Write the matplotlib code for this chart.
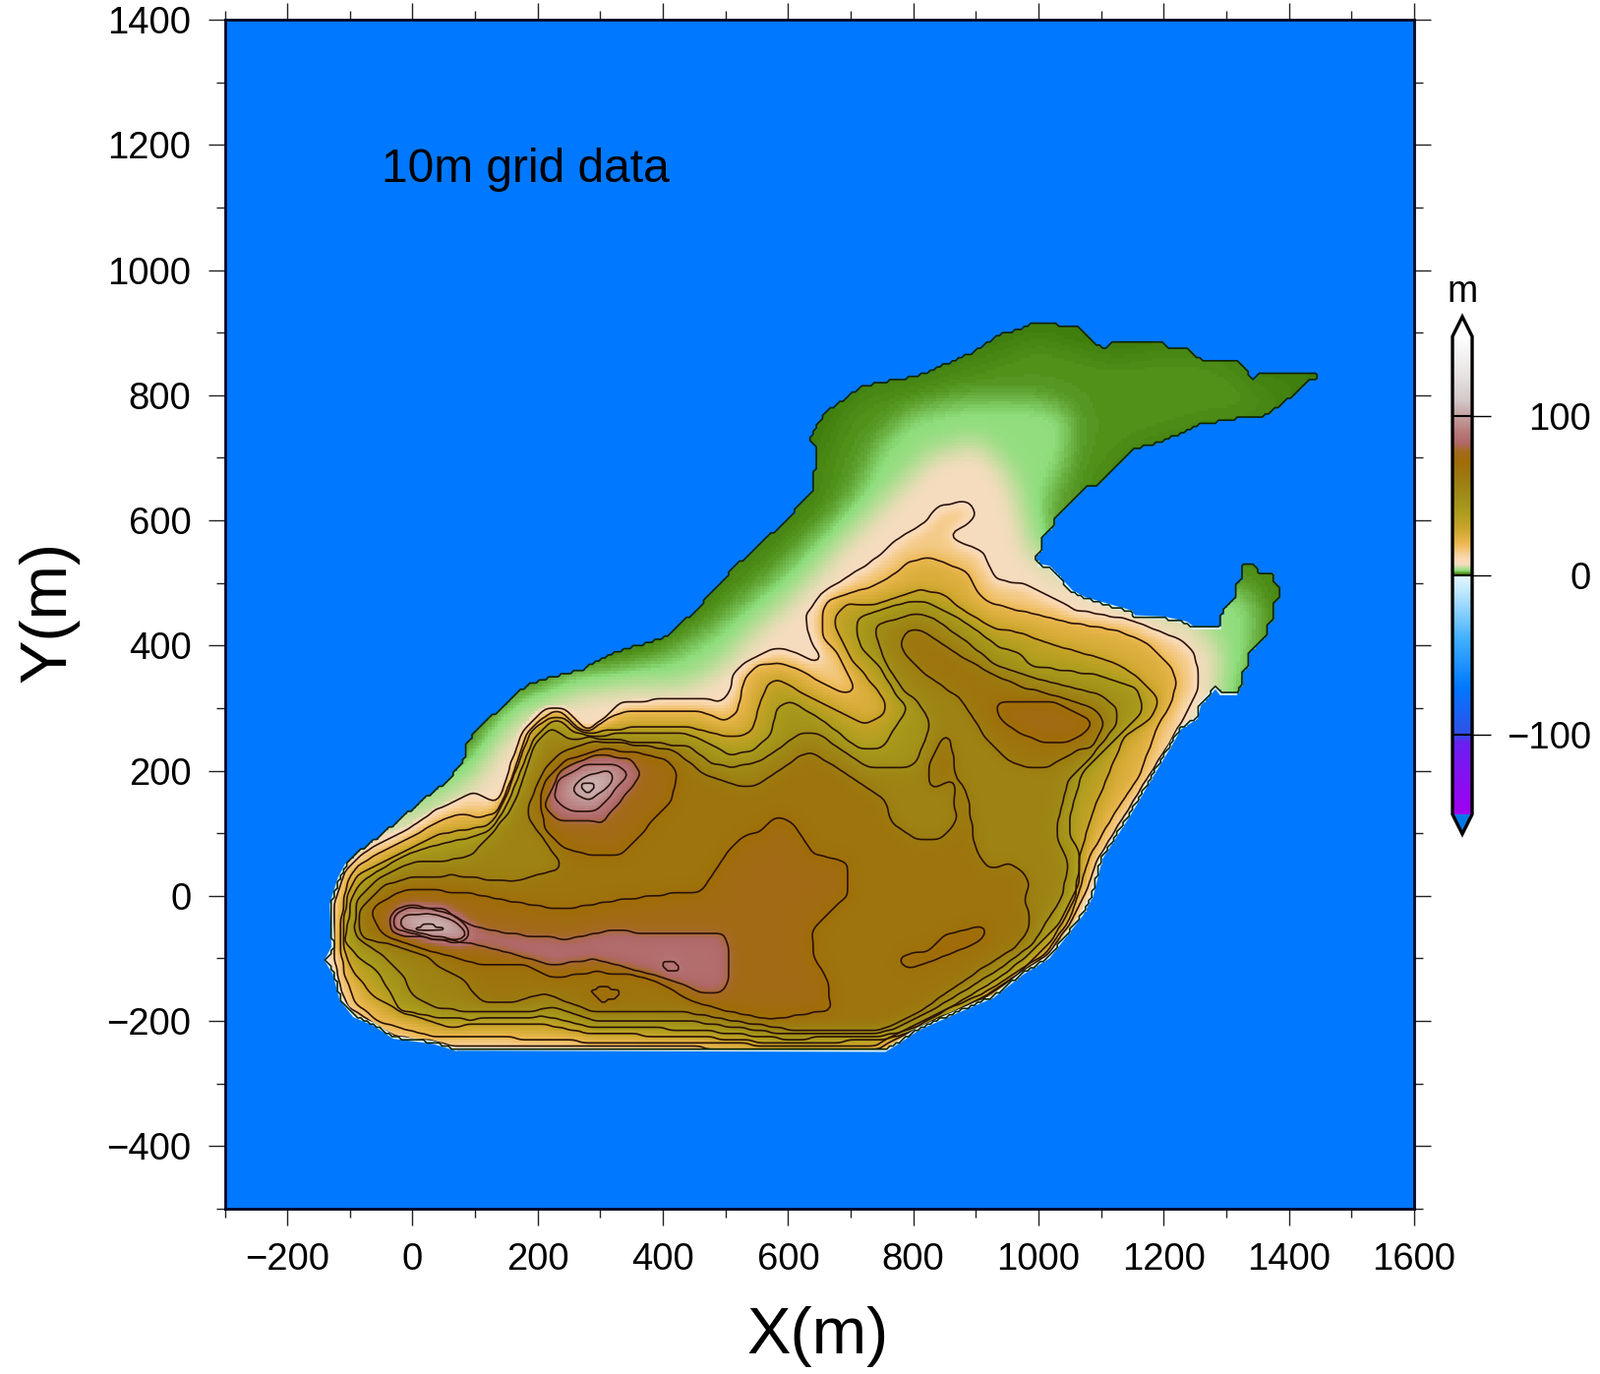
#10m grid topography map, contours
import numpy as np
import matplotlib
matplotlib.use('Agg')
import matplotlib.pyplot as plt
from matplotlib.path import Path
from matplotlib.colors import LinearSegmentedColormap, Normalize
from matplotlib.ticker import MultipleLocator

plt.rcParams['font.family'] = ['Liberation Sans', 'DejaVu Sans']

# all outlines are (x, y) in metres
coast = [(69,-245),(32,-234),(-30,-226),(-62,-205),(-93,-192),(-114,-166),(-125,-124),(-138,-103),(-127,-82),(-130,-14),
         (-117,28),(-106,49),(-88,70),(-51,96),(-9,132),(32,166),(61,185),(64,195),(82,216),(85,240),(106,271),(137,295),
         (158,316),(184,337),(221,350),(268,360),(319,388),(401,412),(450,453),(515,526),(597,600),(640,649),(645,714),
         (634,730),(658,771),(719,815),(808,831),(897,869),(938,897),(970,905),(993,915),(1027,915),(1032,908),(1066,908),
         (1082,889),(1103,874),(1121,887),(1197,887),(1205,876),(1236,874),(1262,855),(1317,855),(1343,826),(1351,835),
         (1445,837),(1445,825),(1430,823),(1388,784),(1357,765),(1309,762),(1257,753),(1194,724),(1153,715),(1095,656),
         (1074,653),(1027,606),(1024,593),(1004,572),(1004,554),(995,543),(1001,528),(1017,525),(1053,486),(1074,475),
         (1147,454),(1153,446),(1200,444),(1236,436),(1247,428),(1289,428),(1294,457),(1315,475),(1317,499),(1325,507),
         (1325,528),(1346,528),(1351,515),(1375,514),(1377,499),(1385,496),(1385,475),(1375,465),(1375,444),(1364,431),
         (1362,412),(1336,386),(1333,368),(1325,355),(1325,336),(1315,323),(1291,323),(1283,334),(1257,305),(1252,284),
         (1226,268),(1210,240),(1180,190),(1145,130),(1100,60),(1085,0),(1069,-30),(1016,-98),(974,-124),(927,-161),
         (870,-185),(807,-213),(776,-234),(755,-247)]

# unlined shading steps in the low ground
mid_zone = [(-90,60),(-20,120),(35,155),(65,185),(90,230),(115,262),(145,285),(190,325),(225,340),(300,360),(400,395),
            (455,440),(520,512),(600,582),(650,635),(662,712),(680,760),(725,800),(810,815),(900,850),(1000,890),(1080,865),
            (1110,855),(1200,865),(1315,840),(1340,805),(1420,825),(1350,775),(1260,765),(1190,738),(1150,728),(1095,672),
            (1070,645),(1030,605),(1015,575),(1010,545),(1040,500),(1100,470),(1290,440),(1300,470),(1335,530),(1370,500),
            (1365,440),(1340,380),(1310,320),(1260,300),(1300,200),(1100,-100),(800,-300),(-200,-300),(-200,0)]
green_zone = [(-110,55),(-30,105),(50,165),(95,205),(130,265),(175,305),(235,335),(305,355),(405,380),(480,425),(570,500),
              (650,575),(710,645),(745,725),(790,770),(880,790),(1000,790),(1050,770),(1045,700),(1015,640),(1000,570),
              (1000,545),(1010,530),(1050,488),(1150,450),(1240,432),(1295,460),(1325,490),(1345,470),(1340,420),(1318,370),
              (1310,335),(1285,330),(1260,300),(1300,200),(1100,-100),(800,-300),(-200,-300),(-200,0)]
cream_zone = [(-100,62),(-40,100),(40,150),(95,185),(135,245),(180,295),(270,325),(350,335),(430,335),(490,365),(535,416),
              (610,480),(700,580),(770,650),(825,705),(900,725),(950,680),(975,600),(985,540),(1010,520),(1060,480),
              (1150,447),(1240,430),(1289,395),(1285,330),(1255,300),(1225,265),(1205,238),(1300,200),(1100,-100),
              (800,-300),(-200,-300),(-200,0)]

c10 = [(-125,-93),(-127,-25),(-119,7),(-106,43),(-88,62),(-51,85),(-9,106),(38,138),(69,151),(95,167),(134,148),(142,161),
       (158,216),(179,269),(210,298),(242,303),(268,277),(281,263),(299,279),(331,308),(388,313),(472,314),(493,311),
       (506,321),(512,352),(525,371),(572,394),(608,392),(645,373),(655,376),(635,410),(627,447),(653,484),(729,531),
       (781,575),(818,596),(841,625),(891,630),(901,609),(891,596),(854,575),(912,549),(933,505),(975,499),(1006,486),
       (1058,457),(1147,441),(1226,410),(1247,391),(1257,352),(1252,321),(1226,274),(1205,238),(1172,185),(1135,125),
       (1092,55),(1075,5),(1053,-40),(1016,-93),(969,-124),(922,-156),(870,-182),(807,-211),(765,-232),(750,-243),
       (598,-243),(69,-241),(32,-232),(-30,-224),(-62,-203),(-104,-177),(-117,-140)]
c20 = [(-117,-72),(-111,-14),(-104,22),(-88,49),(-46,72),(-4,93),(38,117),(74,132),(106,125),(134,132),(153,174),(171,227),
       (184,263),(218,292),(239,295),(262,269),(283,261),(309,282),(331,292),(388,297),(472,292),(499,279),(519,292),
       (530,347),(551,368),(582,373),(614,363),(682,326),(708,325),(697,352),(674,394),(655,410),(653,452),(663,473),
       (734,494),(771,515),(791,536),(833,539),(886,518),(907,478),(922,468),(964,457),(1053,436),(1121,425),(1174,405),
       (1210,370),(1221,342),(1213,310),(1189,268),(1160,190),(1120,130),(1080,60),(1065,7),(1048,-40),(1011,-93),
       (964,-122),(912,-156),(859,-179),(807,-205),(760,-226),(745,-238),(650,-239),(289,-234),(210,-229),(121,-226),
       (43,-226),(-4,-216),(-57,-200),(-93,-169),(-109,-124)]
c30 = [(-110,-46),(-104,1),(-88,33),(-46,54),(1,77),(43,98),(85,106),(121,111),(140,138),(158,180),(176,232),(189,263),
       (221,287),(239,287),(260,266),(283,258),(304,263),(367,271),(440,271),(493,256),(540,258),(553,300),(567,339),
       (582,347),(619,326),(723,274),(755,290),(757,311),(718,358),(697,384),(674,431),(674,447),(697,468),(729,463),
       (812,489),(844,484),(886,452),(933,426),(969,421),(1027,400),(1100,379),(1121,373),(1163,347),(1192,315),
       (1181,284),(1137,255),(1110,190),(1085,130),(1065,60),(1060,0),(1022,-72),(964,-130),(901,-171),(838,-203),
       (776,-224),(745,-230),(598,-237),(441,-224),(289,-221),(210,-205),(53,-208),(-15,-187),(-62,-161),(-96,-119),
       (-109,-88)]
c40 = [(-104,-51),(-98,-4),(-83,22),(-51,43),(1,70),(53,85),(90,93),(121,101),(142,130),(163,174),(179,216),(194,253),
       (221,279),(236,279),(257,261),(283,256),(325,258),(367,261),(440,258),(472,245),(504,226),(540,229),(572,256),
       (582,300),(603,311),(650,284),(713,235),(750,235),(791,300),(776,316),(750,360),(718,394),(708,421),(708,444),
       (791,470),(823,468),(875,442),(906,421),(938,397),(969,389),(985,368),(1022,363),(1100,352),(1158,331),(1168,295),
       (1111,237),(1069,195),(1050,127),(1050,96),(1063,75),(1066,22),(1032,-46),(985,-93),(938,-130),(875,-169),
       (807,-208),(765,-222),(598,-229),(441,-213),(289,-211),(210,-192),(90,-198),(22,-192),(-20,-182),(-44,-140),
       (-57,-119),(-88,-98),(-109,-72)]
c50 = [(-93,-51),(-88,-4),(-57,28),(1,54),(43,54),(95,64),(132,106),(153,132),(171,169),(189,227),(200,250),(221,271),
       (247,250),(283,253),(367,245),(440,240),(478,211),(509,206),(556,214),(619,261),(650,258),(729,203),(802,208),
       (828,274),(807,311),(786,326),(755,373),(742,410),(742,434),(797,449),(828,447),(880,410),(933,368),(995,347),
       (1100,321),(1126,300),(1124,274),(1100,242),(1069,206),(1048,185),(1032,122),(1029,96),(1048,49),(1037,-4),
       (990,-77),(938,-116),(875,-156),(807,-195),(765,-216),(703,-222),(598,-221),(441,-200),(289,-198),(221,-177),
       (179,-187),(90,-185),(32,-177),(1,-161),(-15,-127),(-46,-95),(-88,-69)]
c60 = [(-85,-51),(-83,-19),(-46,17),(1,30),(64,33),(158,22),(236,43),(234,56),(205,96),(184,127),(184,143),(210,201),
       (242,232),(289,248),(367,240),(420,232),(467,193),(519,177),(551,177),(624,227),(640,229),(755,153),(765,117),
       (807,88),(844,88),(870,122),(862,156),(870,166),(862,185),(833,172),(823,177),(825,211),(846,253),(859,256),
       (867,195),(886,166),(899,75),(917,46),(938,46),(954,54),(980,33),(985,17),(977,-9),(988,-35),(980,-61),(964,-82),
       (912,-114),(875,-140),(807,-187),(755,-212),(703,-216),(598,-213),(504,-198),(441,-187),(393,-187),(289,-185),
       (210,-156),(163,-169),(111,-169),(79,-132),(37,-111),(27,-98),(-44,-75),(-80,-69)]
c60_ne = [(781,410),(791,426),(812,426),(880,379),(933,352),(975,332),(990,331),(1090,300),(1106,274),(1085,237),(1069,237),
          (1016,206),(990,203),(954,214),(912,258),(875,316),(859,326),(807,363),(781,395)]
c70 = [(-62,-40),(-64,-19),(-30,2),(1,12),(90,4),(158,-9),(236,-22),(315,-9),(440,7),(462,7),(493,54),(509,77),(530,96),
       (551,101),(582,127),(606,119),(640,67),(697,54),(697,1),(650,-40),(637,-61),(642,-98),(663,-135),(669,-182),
       (572,-198),(493,-182),(441,-166),(398,-140),(346,-124),(289,-122),(221,-132),(179,-109),(106,-109),(27,-88),
       (-44,-64)]
c70_hill = [(205,153),(210,106),(242,75),(289,64),(330,64),(367,101),(414,153),(424,195),(409,216),(367,227),(304,235),
            (242,216),(210,185)]
c70_ne = [(930,305),(949,313),(970,308),(1027,308),(1085,281),(1082,266),(1048,245),(1006,245),(964,263),(938,284)]
c70_se = [(773,-101),(789,-93),(823,-90),(854,-61),(914,-46),(917,-64),(891,-80),(838,-101),(802,-114),(784,-114)]
c70_sw = [(283,-153),(304,-143),(333,-153),(325,-166),(299,-169)]
c80 = [(-38,-35),(-25,-19),(1,-14),(64,-30),(95,-48),(158,-61),(247,-69),(315,-56),(440,-61),(499,-61),(504,-82),(504,-140),
       (493,-156),(462,-156),(441,-145),(398,-130),(346,-116),(289,-101),(221,-111),(179,-98),(90,-75),(-36,-61)]
c80_hill = [(210,143),(231,122),(304,117),(367,195),(346,221),(289,224),(236,201)]
c90 = [(-33,-51),(-30,-30),(-4,-17),(53,-22),(90,-51),(92,-67),(74,-75),(32,-69)]
c90_hill = [(226,159),(242,138),(294,135),(346,195),(325,211),(273,208),(231,185)]
c90_small = [(396,-111),(406,-103),(422,-109),(425,-122),(409,-119)]
c100 = [(-23,-51),(-17,-33),(22,-27),(64,-38),(90,-64),(74,-71),(32,-64)]
c100_hill = [(255,164),(283,151),(320,182),(323,201),(283,195),(257,177)]
c110 = [(4,-54),(22,-43),(56,-55)]
c110_hill = [(270,172),(281,164),(289,174),(286,182),(273,182)]

contour_sets = [(10,c10),(20,c20),(30,c30),(40,c40),(50,c50),(60,c60),(60,c60_ne),(70,c70),(70,c70_hill),(70,c70_ne),
                (70,c70_se),(70,c70_sw),(80,c80),(80,c80_hill),(90,c90),(90,c90_hill),(90,c90_small),(100,c100),
                (100,c100_hill),(110,c110),(110,c110_hill)]

# colour scale
cpt_z = [-150,-105,-100,-70,-40,-10,-0.3,0,1.2,3,7,11,20,30,40,50,60,72,78,83,90,100,110,125,150]
cpt_c = ['#a000f0','#6a20f0','#3050e8','#0078ff','#40b0ff','#c0e8ff','#e4f6ff','#2f6b00','#4f8f18','#8ede7c','#f8dcc0',
         '#fad8b0','#ecb850','#c8a428','#aa9c1c','#a08c18','#9c7c10','#a06c08','#a46a20','#b06868','#b87a7a','#c4a0a0',
         '#d4c8c8','#e6e2e2','#ffffff']
sea_colour = '#0078ff'

xs = np.arange(-297.5,1600,5.)
ys = np.arange(-497.5,1400,5.)
X,Y = np.meshgrid(xs,ys)
pts = np.column_stack([X.ravel(),Y.ravel()])

def inside(poly):
    return Path(np.array(poly+[poly[0]])).contains_points(pts).reshape(X.shape)

def blur(a,sigma):
    r = int(3*sigma)
    k = np.exp(-0.5*(np.arange(-r,r+1)/sigma)**2)
    k = k/k.sum()
    a = np.apply_along_axis(lambda v:np.convolve(v,k,mode='same'),0,a)
    return np.apply_along_axis(lambda v:np.convolve(v,k,mode='same'),1,a)

def land_blur(a,sigma):
    # smooth inside the land only, the sea must not pull the shore down
    return blur(a*land,sigma)/np.maximum(blur(land*1.,sigma),1e-6)

land = inside(coast)
low = np.full(X.shape,0.5)
low[inside(mid_zone)] = 1.3
low[inside(green_zone)] = 3.2
low[inside(cream_zone)] = 7
low = land_blur(low,4.)
high = np.zeros(X.shape)
masks = []
for level,poly in contour_sets:
    m = inside(poly)&land
    high[m] = level+5
    masks.append(m)
high = land_blur(high,2.5)
Z = np.ma.masked_where(~land,np.maximum(low,high))

pos = (np.array(cpt_z)+150)/300
cmap = LinearSegmentedColormap.from_list('topo',list(zip(pos,cpt_c)),N=2048)
cmap.set_over('white')
cmap.set_under('#0078e8')
cmap.set_bad(alpha=0)
norm = Normalize(-150,150)

W,H = 1627,1397
fig = plt.figure(figsize=(W/100,H/100),dpi=100,facecolor='white')
ax = fig.add_axes([228.5/W,1-1229/H,(1438-228.5)/W,(1229-20)/H])
ax.set_facecolor(sea_colour)
im = ax.imshow(Z,origin='lower',extent=(-300,1600,-500,1400),cmap=cmap,norm=norm,interpolation='nearest',aspect='auto')

for m in masks:
    # small loops would vanish under the full smoothing
    s = 1.3 if m.sum()>60 else 0.5
    ax.contour(X,Y,blur(m*1.,s),[0.5],colors='#2a1208',linewidths=1.2)

cx = np.array([p[0] for p in coast]+[coast[0][0]],float)
cy = np.array([p[1] for p in coast]+[coast[0][1]],float)
halo = (cy<60)|((cx>950)&(cx<1290)&(cy<530))|((cx>1000)&(cy<330))
ax.plot(np.where(halo,cx,np.nan),np.where(halo,cy,np.nan),color='#dff4ff',lw=2.2,zorder=2)
ax.contour(X,Y,land*1.,[0.5],colors='#0c2400',linewidths=1.2,zorder=3)

ax.set_xlim(-300,1600)
ax.set_ylim(-500,1400)
ax.xaxis.set_major_locator(MultipleLocator(200))
ax.xaxis.set_minor_locator(MultipleLocator(100))
ax.yaxis.set_major_locator(MultipleLocator(200))
ax.yaxis.set_minor_locator(MultipleLocator(100))
ax.tick_params(which='major',direction='out',length=12,width=1,color='#222222',top=True,right=True,labelsize=27.5,pad=12.5)
ax.tick_params(which='minor',direction='out',length=6.5,width=1,color='#222222',top=True,right=True)
for s in ax.spines.values():
    s.set_linewidth(2)
    s.set_color('#050520')
    s.set_zorder(5)

ax.text(-50,1141,'10m grid data',fontsize=34.5,color='black')
fig.text(832/W,1-1359/H,'X(m)',fontsize=48,ha='center',va='center')
fig.text(49/W,1-622/H,'Y(m)',fontsize=48,ha='center',va='center',rotation=90)

# colour bar, the axes box holds the bar and both end triangles
cax = fig.add_axes([1477/W,1-848/H,20/W,526/H])
cb = fig.colorbar(im,cax=cax,extend='both',extendfrac=20/485)
cb.set_ticks([-100,0,100])
cb.set_ticklabels(['\u2212100','0','100'])
cb.outline.set_linewidth(2.4)
cb.outline.set_edgecolor('black')
cax.tick_params(length=14,width=1,labelsize=27.5,pad=73)
for t in cax.get_yticklabels():
    t.set_ha('right')
cax.hlines([-100,0,100],0,1,colors='black',lw=1.5,transform=cax.get_yaxis_transform())
fig.text(1487/W,1-297/H,'m',fontsize=27,ha='center',va='center')

fig.savefig('out.png',dpi=100)
